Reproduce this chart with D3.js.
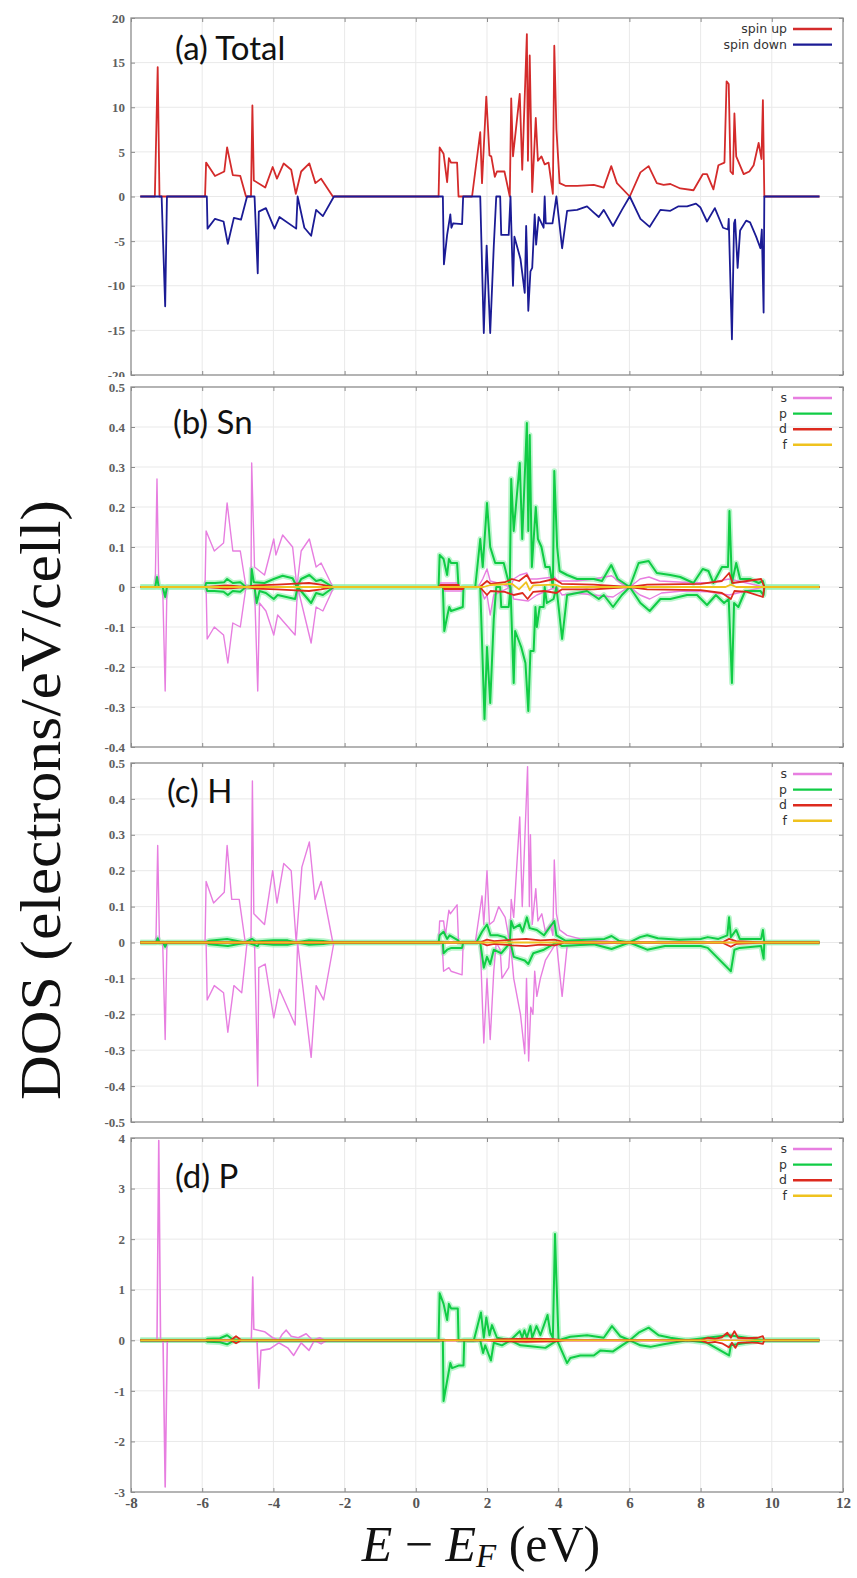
<!DOCTYPE html>
<html><head><meta charset="utf-8">
<script src="https://cdn.jsdelivr.net/npm/d3@7"></script>
<style>html,body{margin:0;padding:0;background:#fff;}</style>
</head><body>
<script>
// ---------------- DATA ----------------
const xTicks = [-8,-6,-4,-2,0,2,4,6,8,10,12];
const yTicksA = [-20,-15,-10,-5,0,5,10,15,20];
const yTicksB = [-0.4,-0.3,-0.2,-0.1,0,0.1,0.2,0.3,0.4,0.5];
const yTicksC = [-0.5,-0.4,-0.3,-0.2,-0.1,0,0.1,0.2,0.3,0.4,0.5];
const yTicksD = [-3,-2,-1,0,1,2,3,4];
const panelTitles = ["(a) Total","(b) Sn","(c) H","(d) P"];
const totalNames = ["spin up","spin down"];
const orbitalNames = ["s","p","d","f"];

// (a) total DOS  [E, DOS]
const totalUp = [[-7.74,0],[-7.33,0],[-7.25,14.5],[-7.2,0],[-5.92,0],[-5.89,3.8],[-5.64,2.3],[-5.38,2.8],[-5.3,5.5],[-5.14,2.4],[-4.93,2.3],[-4.77,0],[-4.63,0],[-4.59,10.2],[-4.55,1.8],[-4.23,1.0],[-4.02,3.3],[-3.9,2.0],[-3.71,3.7],[-3.5,3.0],[-3.37,0.3],[-3.22,2.8],[-2.99,3.7],[-2.82,1.5],[-2.66,2.0],[-2.33,0],[0.64,0],[0.67,5.5],[0.78,4.8],[0.88,1.6],[0.93,4.3],[0.99,3.8],[1.16,3.8],[1.2,0],[1.58,0],[1.81,7.2],[1.86,1.5],[1.98,11.2],[2.07,4.6],[2.12,4.5],[2.22,2.2],[2.28,2.8],[2.49,2.8],[2.64,0],[2.68,11.0],[2.73,4.5],[2.92,11.5],[2.99,3.0],[3.12,18.2],[3.15,4.0],[3.2,15.8],[3.27,0.5],[3.37,8.8],[3.43,4.0],[3.53,4.5],[3.62,3.6],[3.73,3.8],[3.85,0.3],[3.89,16.9],[3.95,7.5],[4.04,1.5],[4.2,1.2],[4.53,1.2],[5.0,1.3],[5.28,1.0],[5.49,3.4],[5.65,1.5],[6.01,0],[6.31,2.7],[6.54,3.4],[6.77,1.5],[6.96,1.3],[7.15,1.4],[7.43,0.9],[7.8,0.7],[8.06,2.5],[8.18,2.5],[8.36,0.8],[8.5,3.5],[8.67,3.8],[8.73,12.9],[8.79,12.6],[8.84,2.8],[8.91,2.5],[8.95,9.3],[9.0,4.5],[9.21,2.5],[9.37,2.8],[9.49,3.5],[9.63,6.0],[9.71,4.2],[9.75,10.8],[9.79,0],[11.34,0]];
const totalDown = [[-7.74,0],[-7.14,0],[-7.04,-12.3],[-6.99,0],[-5.87,0],[-5.85,-3.6],[-5.64,-2.5],[-5.4,-2.8],[-5.28,-5.3],[-5.11,-2.4],[-4.91,-2.6],[-4.74,0],[-4.53,0],[-4.44,-8.6],[-4.41,-1.7],[-4.21,-1.3],[-3.97,-3.6],[-3.83,-2.3],[-3.36,-3.6],[-3.32,0],[-3.13,-3.5],[-2.94,-4.4],[-2.8,-1.5],[-2.61,-2.2],[-2.3,0],[0.76,0],[0.79,-7.6],[0.88,-4.3],[0.97,-2.0],[1.0,-3.5],[1.05,-3.0],[1.3,-3.1],[1.33,0],[1.81,0],[1.91,-15.3],[1.99,-5.5],[2.09,-15.3],[2.19,-5.6],[2.26,0],[2.37,0],[2.4,-4.3],[2.61,-4.3],[2.66,0],[2.73,-10.0],[2.77,-4.5],[2.94,-7.0],[3.06,-10.8],[3.1,-3.3],[3.12,-6.0],[3.16,-12.8],[3.22,-8.4],[3.27,-8.0],[3.34,-2.0],[3.38,-5.4],[3.45,-2.3],[3.59,-3.5],[3.62,0],[3.65,-3.0],[3.84,-3.0],[3.95,0],[4.11,-5.8],[4.25,-1.6],[4.53,-1.5],[4.81,-1.1],[5.0,-1.8],[5.14,-2.3],[5.28,-1.5],[5.54,-3.3],[5.79,-1.5],[6.01,0],[6.31,-2.5],[6.57,-3.4],[6.87,-1.5],[7.15,-1.6],[7.38,-1.1],[7.62,-1.1],[7.87,-0.8],[7.99,-1.2],[8.18,-2.8],[8.4,-1.3],[8.63,-3.5],[8.77,-3.7],[8.79,-2.5],[8.88,-16.0],[8.94,-3.0],[8.97,-2.6],[9.04,-8.0],[9.11,-3.8],[9.28,-2.7],[9.39,-2.9],[9.56,-4.5],[9.68,-5.8],[9.72,-3.7],[9.77,-13.0],[9.79,0],[11.34,0]];

// (b) Sn partial DOS
const snSUp = [[-7.74,0],[-7.32,0],[-7.27,0.27],[-7.22,0],[-5.92,0],[-5.89,0.14],[-5.66,0.09],[-5.4,0.11],[-5.3,0.21],[-5.14,0.09],[-4.93,0.09],[-4.77,0],[-4.63,0],[-4.61,0.31],[-4.53,0.05],[-4.25,0.03],[-3.99,0.12],[-3.93,0.08],[-3.74,0.13],[-3.46,0.1],[-3.34,0],[-3.22,0.09],[-2.99,0.12],[-2.8,0.05],[-2.66,0.06],[-2.33,0],[0.64,0],[0.67,0.01],[1.2,0.01],[1.21,0],[1.75,0],[1.88,0.02],[2.0,0.045],[2.09,0.015],[2.3,0.01],[2.66,0],[2.75,0.02],[2.92,0.03],[3.12,0.035],[3.2,0.02],[3.4,0.02],[3.89,0.025],[4.0,0.015],[4.5,0.015],[5.0,0.02],[5.5,0.028],[5.75,0.01],[6.01,0],[6.3,0.02],[6.55,0.025],[6.85,0.015],[7.5,0.012],[8.2,0.01],[8.8,0.02],[9.3,0.01],[9.79,0],[11.34,0]];
const snSDown = [[-7.74,0],[-7.11,0],[-7.04,-0.26],[-6.99,0],[-5.89,0],[-5.86,-0.13],[-5.66,-0.1],[-5.4,-0.12],[-5.28,-0.19],[-5.14,-0.09],[-4.93,-0.1],[-4.77,0],[-4.53,0],[-4.44,-0.26],[-4.39,-0.04],[-4.21,-0.06],[-3.99,-0.12],[-3.88,-0.07],[-3.39,-0.12],[-3.32,0],[-2.94,-0.14],[-2.8,-0.05],[-2.61,-0.06],[-2.3,0],[0.76,0],[0.8,-0.01],[1.33,-0.01],[1.34,0],[1.81,0],[1.93,-0.03],[2.0,-0.02],[2.09,-0.07],[2.19,-0.02],[2.66,0],[2.75,-0.03],[3.16,-0.035],[3.4,-0.02],[3.95,0],[4.11,-0.02],[4.5,-0.015],[5.0,-0.02],[5.54,-0.025],[5.8,-0.01],[6.01,0],[6.3,-0.02],[6.57,-0.03],[6.9,-0.015],[7.5,-0.01],[8.2,-0.012],[8.8,-0.02],[9.79,0],[11.34,0]];
const snPUp = [[-7.74,0],[-7.32,0],[-7.27,0.025],[-7.22,0],[-5.92,0],[-5.89,0.01],[-5.64,0.01],[-5.38,0.012],[-5.3,0.02],[-5.14,0.01],[-4.93,0.012],[-4.77,0],[-4.63,0],[-4.61,0.045],[-4.55,0.012],[-4.25,0.01],[-3.99,0.02],[-3.74,0.028],[-3.46,0.022],[-3.34,0],[-3.22,0.02],[-2.99,0.03],[-2.8,0.015],[-2.66,0.018],[-2.33,0],[0.64,0],[0.67,0.08],[0.78,0.07],[0.88,0.03],[0.93,0.07],[0.99,0.06],[1.16,0.06],[1.2,0],[1.67,0],[1.81,0.12],[1.88,0.05],[2.0,0.21],[2.09,0.1],[2.23,0.06],[2.47,0.06],[2.64,0],[2.68,0.27],[2.75,0.14],[2.92,0.31],[2.99,0.12],[3.12,0.41],[3.16,0.14],[3.2,0.38],[3.26,0.05],[3.37,0.2],[3.43,0.12],[3.53,0.1],[3.64,0.05],[3.76,0.05],[3.85,0],[3.89,0.29],[3.97,0.1],[4.04,0.04],[4.25,0.03],[4.53,0.02],[5.0,0.02],[5.23,0.015],[5.49,0.055],[5.67,0.02],[6.01,0],[6.26,0.06],[6.54,0.065],[6.77,0.035],[7.15,0.03],[7.43,0.025],[7.8,0.01],[8.06,0.045],[8.22,0.04],[8.36,0.01],[8.6,0.05],[8.77,0.05],[8.81,0.19],[8.88,0.01],[9.0,0.06],[9.11,0.02],[9.39,0.02],[9.63,0.01],[9.75,0.015],[9.79,0],[11.34,0]];
const snPDown = [[-7.74,0],[-7.11,0],[-7.04,-0.025],[-6.99,0],[-5.89,0],[-5.86,-0.01],[-5.66,-0.01],[-5.4,-0.012],[-5.28,-0.02],[-5.14,-0.01],[-4.93,-0.012],[-4.77,0],[-4.53,0],[-4.47,-0.04],[-4.39,-0.01],[-4.21,-0.015],[-3.99,-0.03],[-3.88,-0.02],[-3.39,-0.03],[-3.32,0],[-2.94,-0.04],[-2.8,-0.015],[-2.61,-0.02],[-2.3,0],[0.76,0],[0.8,-0.11],[0.89,-0.07],[0.94,-0.05],[0.99,-0.06],[1.32,-0.05],[1.34,0],[1.81,0],[1.93,-0.33],[2.0,-0.15],[2.09,-0.29],[2.19,-0.08],[2.26,0],[2.37,0],[2.4,-0.05],[2.61,-0.05],[2.66,0],[2.75,-0.24],[2.79,-0.11],[2.96,-0.15],[3.08,-0.19],[3.16,-0.31],[3.22,-0.16],[3.31,-0.16],[3.36,-0.05],[3.4,-0.1],[3.48,-0.05],[3.59,-0.05],[3.62,0],[3.68,-0.04],[3.87,-0.03],[3.95,0],[4.11,-0.13],[4.25,-0.02],[4.53,-0.015],[4.81,-0.01],[5.14,-0.03],[5.28,-0.02],[5.54,-0.05],[5.79,-0.02],[6.01,0],[6.31,-0.04],[6.57,-0.06],[6.87,-0.03],[7.15,-0.03],[7.62,-0.02],[7.9,-0.02],[8.18,-0.045],[8.43,-0.02],[8.66,-0.04],[8.79,-0.03],[8.88,-0.24],[8.94,-0.04],[9.06,-0.05],[9.25,-0.01],[9.68,-0.01],[9.77,-0.02],[9.79,0],[11.34,0]];
const snDUp = [[-7.74,0],[-5.9,0],[-5.3,0.004],[-4.77,0],[-4.5,0.004],[-3.9,0.006],[-3.5,0.008],[-3.0,0.01],[-2.66,0.006],[-2.33,0],[0.64,0],[0.7,0.005],[1.2,0.005],[1.21,0],[1.8,0],[2.0,0.015],[2.1,0.008],[2.5,0.012],[2.7,0.02],[2.9,0.015],[3.12,0.03],[3.25,0.01],[3.5,0.012],[3.89,0.02],[4.1,0.008],[5.0,0.006],[6.0,0],[6.5,0.006],[8.0,0.008],[8.6,0.015],[8.8,0.035],[8.9,0.01],[9.3,0.015],[9.7,0.02],[9.79,0],[11.34,0]];
const snDDown = [[-7.74,0],[-5.9,0],[-5.3,-0.004],[-4.77,0],[-4.5,-0.004],[-3.9,-0.006],[-3.5,-0.008],[-3.0,-0.01],[-2.66,-0.006],[-2.33,0],[0.76,0],[0.8,-0.005],[1.33,-0.005],[1.34,0],[1.8,0],[2.0,-0.02],[2.1,-0.01],[2.5,-0.012],[2.75,-0.02],[3.0,-0.015],[3.14,-0.03],[3.3,-0.012],[3.6,-0.01],[3.95,-0.015],[4.1,-0.006],[5.0,-0.006],[6.0,0],[6.5,-0.006],[8.0,-0.008],[8.6,-0.015],[8.85,-0.03],[8.95,-0.01],[9.3,-0.012],[9.75,-0.025],[9.79,0],[11.34,0]];
const snF = [[-7.74,0],[1.9,0],[2.1,0.005],[2.7,0.008],[2.9,-0.006],[3.1,0.012],[3.2,-0.008],[3.3,0.004],[3.9,0.006],[4.1,0],[8.7,0],[8.85,0.006],[9.0,0],[11.34,0]];

// (c) H partial DOS
const hSUp = [[-7.74,0],[-7.3,0],[-7.25,0.27],[-7.2,0],[-5.92,0],[-5.89,0.17],[-5.68,0.11],[-5.38,0.14],[-5.3,0.27],[-5.17,0.12],[-4.96,0.12],[-4.79,0],[-4.63,0],[-4.59,0.45],[-4.55,0.08],[-4.25,0.05],[-4.02,0.2],[-3.9,0.11],[-3.71,0.22],[-3.5,0.2],[-3.36,0],[-3.2,0.21],[-2.99,0.28],[-2.83,0.12],[-2.66,0.17],[-2.33,0],[0.64,0],[0.67,0.06],[0.78,0.06],[0.83,0.02],[0.93,0.09],[0.97,0.08],[1.16,0.105],[1.2,0],[1.67,0],[1.86,0.13],[1.91,0.05],[2.0,0.2],[2.07,0.05],[2.19,0.06],[2.33,0.1],[2.51,0.07],[2.64,0],[2.68,0.12],[2.75,0.07],[2.92,0.35],[2.99,0.1],[3.14,0.49],[3.19,0.1],[3.22,0.3],[3.27,0.05],[3.37,0.15],[3.43,0.06],[3.54,0.08],[3.64,0.03],[3.78,0.05],[3.85,0.02],[3.89,0.23],[3.95,0.08],[4.04,0.035],[4.25,0.02],[4.62,0.01],[5.09,0.005],[6.0,0],[11.34,0]];
const hSDown = [[-7.74,0],[-7.11,0],[-7.04,-0.27],[-6.99,0],[-5.89,0],[-5.86,-0.16],[-5.66,-0.12],[-5.4,-0.14],[-5.28,-0.25],[-5.11,-0.12],[-4.89,-0.14],[-4.74,0],[-4.53,0],[-4.44,-0.4],[-4.41,-0.07],[-4.23,-0.06],[-3.99,-0.21],[-3.83,-0.13],[-3.39,-0.23],[-3.32,0],[-2.94,-0.32],[-2.8,-0.12],[-2.59,-0.16],[-2.3,0],[0.74,0],[0.78,-0.08],[0.93,-0.07],[0.99,-0.08],[1.3,-0.09],[1.33,0],[1.81,0],[1.91,-0.28],[2.0,-0.1],[2.09,-0.27],[2.19,-0.08],[2.26,0],[2.37,-0.02],[2.42,-0.1],[2.61,-0.07],[2.66,0],[2.75,-0.1],[2.94,-0.2],[3.06,-0.31],[3.11,-0.1],[3.17,-0.33],[3.23,-0.18],[3.29,-0.2],[3.34,-0.08],[3.4,-0.15],[3.5,-0.1],[3.64,-0.05],[3.95,0],[4.11,-0.15],[4.25,-0.01],[5.0,-0.005],[6.0,0],[11.34,0]];
const hPUp = [[-7.74,0],[-7.3,0],[-7.25,0.012],[-7.2,0],[-5.92,0],[-5.8,0.005],[-5.3,0.01],[-4.8,0],[-4.6,0.01],[-4.5,0.003],[-4.0,0.006],[-3.6,0.006],[-3.36,0],[-3.0,0.006],[-2.6,0.004],[-2.33,0],[0.64,0],[0.67,0.02],[0.78,0.03],[0.88,0.01],[0.95,0.02],[1.2,0.005],[1.21,0],[1.7,0],[1.86,0.03],[2.0,0.05],[2.1,0.02],[2.3,0.02],[2.5,0.015],[2.64,0],[2.68,0.06],[2.75,0.04],[2.92,0.05],[3.0,0.03],[3.12,0.07],[3.2,0.04],[3.4,0.035],[3.6,0.02],[3.89,0.06],[3.95,0.02],[4.2,0.005],[4.8,0.008],[5.3,0.01],[5.5,0.018],[5.7,0.005],[6.0,0],[6.3,0.015],[6.5,0.02],[6.8,0.012],[7.4,0.008],[8.0,0.01],[8.2,0.015],[8.5,0.01],[8.75,0.02],[8.8,0.07],[8.85,0.015],[9.0,0.035],[9.1,0.01],[9.7,0.01],[9.75,0.035],[9.79,0],[11.34,0]];
const hPDown = [[-7.74,0],[-7.1,0],[-7.04,-0.012],[-6.99,0],[-5.89,0],[-5.8,-0.005],[-5.28,-0.01],[-4.74,0],[-4.44,-0.01],[-4.4,-0.003],[-4.0,-0.006],[-3.6,-0.006],[-3.32,0],[-3.0,-0.006],[-2.6,-0.004],[-2.3,0],[0.76,0],[0.78,-0.03],[0.88,-0.02],[1.0,-0.015],[1.3,-0.015],[1.33,0],[1.81,0],[1.91,-0.07],[2.0,-0.04],[2.09,-0.06],[2.19,-0.02],[2.4,-0.03],[2.66,0],[2.75,-0.04],[3.06,-0.05],[3.16,-0.06],[3.3,-0.03],[3.6,-0.02],[3.95,0],[4.11,-0.01],[5.0,-0.005],[5.5,-0.018],[6.0,0],[6.5,-0.02],[7.0,-0.01],[8.0,-0.01],[8.2,-0.015],[8.85,-0.08],[8.95,-0.02],[9.1,-0.015],[9.7,-0.01],[9.77,-0.045],[9.79,0],[11.34,0]];
const hDUp = [[-7.74,0],[1.8,0],[2.0,0.008],[2.2,0.004],[2.7,0.008],[3.1,0.01],[3.5,0.006],[3.9,0.008],[4.2,0],[8.6,0],[8.8,0.01],[9.0,0.004],[9.79,0],[11.34,0]];
const hDDown = [[-7.74,0],[1.8,0],[2.0,-0.008],[2.2,-0.004],[2.7,-0.008],[3.1,-0.01],[3.5,-0.006],[3.9,-0.008],[4.2,0],[8.6,0],[8.85,-0.012],[9.0,-0.004],[9.79,0],[11.34,0]];
const hF = [[-7.74,0],[11.34,0]];

// (d) P partial DOS
const pSUp = [[-7.74,0],[-7.27,0],[-7.22,3.95],[-7.17,0],[-4.62,0],[-4.58,1.25],[-4.55,0.22],[-4.25,0.17],[-4.02,0.05],[-3.85,0.0],[-3.75,0.12],[-3.64,0.2],[-3.5,0.08],[-3.3,0.05],[-3.08,0.13],[-2.9,0],[-2.7,0.05],[-2.55,0],[11.34,0]];
const pSDown = [[-7.74,0],[-7.1,0],[-7.04,-2.9],[-6.98,0],[-4.46,0],[-4.41,-0.95],[-4.35,-0.2],[-4.1,-0.17],[-3.85,-0.05],[-3.6,-0.15],[-3.43,-0.3],[-3.22,-0.05],[-3.0,-0.2],[-2.85,0],[-2.66,-0.07],[-2.5,0],[11.34,0]];
const pPUp = [[-7.74,0],[-5.9,0],[-5.85,0.03],[-5.5,0.04],[-5.3,0.1],[-5.15,0.02],[-4.95,0],[0.64,0],[0.67,0.93],[0.78,0.72],[0.88,0.4],[0.93,0.72],[0.99,0.63],[1.18,0.63],[1.2,0],[1.63,0],[1.83,0.55],[1.91,0.05],[1.98,0.45],[2.07,0.1],[2.14,0.3],[2.28,0.05],[2.66,0],[2.92,0.18],[2.99,0.05],[3.05,0.2],[3.12,0.05],[3.22,0.28],[3.27,0.05],[3.39,0.28],[3.5,0.1],[3.7,0.5],[3.78,0.15],[3.85,0.05],[3.91,2.1],[3.95,1.2],[4.01,0],[4.34,0.07],[4.81,0.1],[5.28,0.05],[5.51,0.28],[5.74,0.08],[6.01,0],[6.26,0.15],[6.54,0.25],[6.82,0.1],[7.15,0.05],[7.62,0],[8.18,0.05],[8.8,0.1],[9.77,0],[11.34,0]];
const pPDown = [[-7.74,0],[-5.9,0],[-5.85,-0.03],[-5.5,-0.04],[-5.3,-0.08],[-5.15,-0.02],[-4.95,0],[0.76,0],[0.78,-1.2],[0.88,-0.8],[0.97,-0.45],[1.02,-0.55],[1.2,-0.5],[1.34,-0.5],[1.36,0],[1.81,0],[1.89,-0.25],[1.95,-0.1],[2.11,-0.4],[2.19,-0.05],[2.42,-0.1],[2.66,0],[2.94,-0.1],[3.22,-0.12],[3.64,-0.15],[3.97,0],[4.25,-0.45],[4.34,-0.35],[4.62,-0.3],[5.0,-0.3],[5.19,-0.2],[5.54,-0.22],[5.79,-0.1],[6.01,0],[6.31,-0.1],[6.59,-0.13],[6.96,-0.08],[7.62,0],[8.18,-0.05],[8.8,-0.3],[8.85,-0.1],[9.77,0],[11.34,0]];
const pDUp = [[-7.74,0],[-5.2,0],[-5.05,0.08],[-4.9,0],[1.8,0],[2.5,0.02],[3.1,0.03],[3.9,0.02],[4.2,0],[8.0,0],[8.2,0.05],[8.4,0.03],[8.6,0.06],[8.75,0.15],[8.85,0.05],[8.95,0.18],[9.05,0.05],[9.3,0.04],[9.6,0.05],[9.75,0.08],[9.79,0],[11.34,0]];
const pDDown = [[-7.74,0],[-5.2,0],[-5.05,-0.06],[-4.9,0],[1.8,0],[2.5,-0.02],[3.1,-0.03],[3.9,-0.02],[4.2,0],[8.0,0],[8.2,-0.05],[8.4,-0.03],[8.6,-0.06],[8.8,-0.14],[8.88,-0.05],[8.98,-0.15],[9.05,-0.05],[9.3,-0.04],[9.6,-0.05],[9.75,-0.07],[9.79,0],[11.34,0]];
const pF = [[-7.74,0],[11.34,0]];

// ---------------- STYLE / LAYOUT ----------------
const W = 857, H = 1578;
const colUp = "#d42b2b", colDown = "#1b1b95";
const colS = "#e77ee0", colP = "#10cc45", colD = "#dd2a1e", colF = "#efc21e";
const orbColors = [colS, colP, colD, colF];

const panels = [
  {top:18, bottom:375, domain:[-20,20], ticks:yTicksA, fmt:d=>String(d), title:panelTitles[0], tx:175, ty:60,
   legend:totalNames, legColors:[colUp,colDown],
   series:[{d:totalUp,c:colUp,w:1.8},{d:totalDown,c:colDown,w:1.8}]},
  {top:387, bottom:747, domain:[-0.4,0.5], ticks:yTicksB, fmt:d=>d===0?"0":d.toFixed(1), title:panelTitles[1], tx:173, ty:434,
   legend:orbitalNames, legColors:orbColors,
   series:[{d:snSUp,c:colS,w:1.4},{d:snSDown,c:colS,w:1.4},{d:snPUp,c:colP,w:2,g:1},{d:snPDown,c:colP,w:2,g:1},{d:snDUp,c:colD,w:1.8},{d:snDDown,c:colD,w:1.8},{d:snF,c:colF,w:1.8}]},
  {top:763, bottom:1122, domain:[-0.5,0.5], ticks:yTicksC, fmt:d=>d===0?"0":d.toFixed(1), title:panelTitles[2], tx:167, ty:803,
   legend:orbitalNames, legColors:orbColors,
   series:[{d:hSUp,c:colS,w:1.4},{d:hSDown,c:colS,w:1.4},{d:hPUp,c:colP,w:2,g:1},{d:hPDown,c:colP,w:2,g:1},{d:hDUp,c:colD,w:1.8},{d:hDDown,c:colD,w:1.8},{d:hF,c:colF,w:1.8}]},
  {top:1138, bottom:1492, domain:[-3,4], ticks:yTicksD, fmt:d=>String(d), title:panelTitles[3], tx:175, ty:1188,
   legend:orbitalNames, legColors:orbColors,
   series:[{d:pSUp,c:colS,w:1.6},{d:pSDown,c:colS,w:1.6},{d:pPUp,c:colP,w:2,g:1},{d:pPDown,c:colP,w:2,g:1},{d:pDUp,c:colD,w:1.8},{d:pDDown,c:colD,w:1.8},{d:pF,c:colF,w:1.6}]}
];

const svg = d3.select("body").append("svg").attr("width",W).attr("height",H).style("display","block");
svg.append("rect").attr("width",W).attr("height",H).attr("fill","#fff");

const x = d3.scaleLinear().domain([-8,12]).range([131,843]);
const L = 131, R = 843;
const frameCol = "#8c8c8c";

panels.forEach((p,i)=>{
  const y = d3.scaleLinear().domain(p.domain).range([p.bottom,p.top]);
  const g = svg.append("g");
  if(i>0) g.append("rect").attr("x",60).attr("y",p.top-10).attr("width",L-60).attr("height",10).attr("fill","#fff");
  g.append("g").selectAll("line").data(xTicks.slice(1,-1)).join("line")
    .attr("x1",d=>x(d)).attr("x2",d=>x(d)).attr("y1",p.top).attr("y2",p.bottom)
    .attr("stroke","#e9e9e9").attr("stroke-width",1);
  g.append("g").selectAll("line").data(p.ticks.slice(1,-1)).join("line")
    .attr("y1",d=>y(d)).attr("y2",d=>y(d)).attr("x1",L).attr("x2",R)
    .attr("stroke","#e9e9e9").attr("stroke-width",1);
  const ax = g.append("g").attr("transform",`translate(${L},0)`)
    .call(d3.axisLeft(y).tickValues(p.ticks).tickFormat(p.fmt).tickSizeInner(-4).tickSizeOuter(0).tickPadding(6));
  ax.select(".domain").remove();
  ax.selectAll("line").attr("stroke",frameCol);
  ax.selectAll("text").attr("font-family","'Liberation Serif', serif").attr("font-weight","bold")
    .attr("font-size",13).attr("fill","#606060");
  const axr = g.append("g").attr("transform",`translate(${R},0)`)
    .call(d3.axisRight(y).tickValues(p.ticks).tickFormat("").tickSizeInner(-4).tickSizeOuter(0));
  axr.select(".domain").remove(); axr.selectAll("line").attr("stroke",frameCol);
  const axt = g.append("g").attr("transform",`translate(0,${p.top})`)
    .call(d3.axisTop(x).tickValues(xTicks).tickFormat("").tickSizeInner(-4).tickSizeOuter(0));
  axt.select(".domain").remove(); axt.selectAll("line").attr("stroke",frameCol);
  const axb = g.append("g").attr("transform",`translate(0,${p.bottom})`)
    .call(d3.axisBottom(x).tickValues(xTicks).tickFormat(i===3?(d=>String(d)):"").tickSizeInner(-4).tickSizeOuter(0).tickPadding(5));
  axb.select(".domain").remove(); axb.selectAll("line").attr("stroke",frameCol);
  axb.selectAll("text").attr("font-family","'Liberation Serif', serif").attr("font-weight","bold")
    .attr("font-size",15).attr("fill","#555");

  const cid = "clip"+i;
  svg.append("clipPath").attr("id",cid).append("rect").attr("x",L).attr("y",p.top).attr("width",R-L).attr("height",p.bottom-p.top);
  const line = d3.line().x(d=>x(d[0])).y(d=>y(d[1]));
  const lg = g.append("g").attr("clip-path",`url(#${cid})`);
  p.series.forEach(s=>{
    if(s.g){
      lg.append("path").attr("d",line(s.d)).attr("fill","none").attr("stroke","#8cf0aa")
        .attr("stroke-width",5.5).attr("stroke-opacity",0.6).attr("stroke-linejoin","round");
    }
  });
  p.series.forEach(s=>{
    lg.append("path").attr("d",line(s.d)).attr("fill","none").attr("stroke",s.c)
      .attr("stroke-width",s.w).attr("stroke-linejoin","round");
  });
  g.append("rect").attr("x",L).attr("y",p.top).attr("width",R-L).attr("height",p.bottom-p.top)
    .attr("fill","none").attr("stroke",frameCol).attr("stroke-width",1.3);
  g.append("text").attr("x",p.tx).attr("y",p.ty).text(p.title)
    .attr("font-family","Lato, 'Open Sans', sans-serif").attr("font-size",33).attr("fill","#111");
  const leg = g.append("g");
  p.legend.forEach((name,k)=>{
    const ly = p.top + 11 + k*15.6;
    leg.append("text").attr("x",787).attr("y",ly+4).attr("text-anchor","end").text(name)
      .attr("font-family","'DejaVu Sans', sans-serif").attr("font-size",12.5).attr("fill","#333");
    leg.append("line").attr("x1",793).attr("x2",832).attr("y1",ly).attr("y2",ly)
      .attr("stroke",p.legColors[k]).attr("stroke-width",2.4);
  });
});

// axis titles
svg.append("text").attr("transform","translate(60,800) rotate(-90)").attr("text-anchor","middle")
  .attr("font-family","'Liberation Serif', 'Times New Roman', serif").attr("font-size",56).attr("fill","#111")
  .attr("textLength",600).attr("lengthAdjust","spacingAndGlyphs")
  .text("DOS (electrons/eV/cell)");

const xt = svg.append("text").attr("x",481).attr("y",1561).attr("text-anchor","middle")
  .attr("font-family","'Liberation Serif', 'Times New Roman', serif").attr("font-size",50).attr("fill","#111");
xt.append("tspan").attr("font-style","italic").text("E");
xt.append("tspan").text(" \u2212 ");
xt.append("tspan").attr("font-style","italic").text("E");
xt.append("tspan").attr("font-style","italic").attr("font-size",33).attr("dy",6).text("F");
xt.append("tspan").attr("dy",-6).text(" (eV)");
</script>
</body></html>
